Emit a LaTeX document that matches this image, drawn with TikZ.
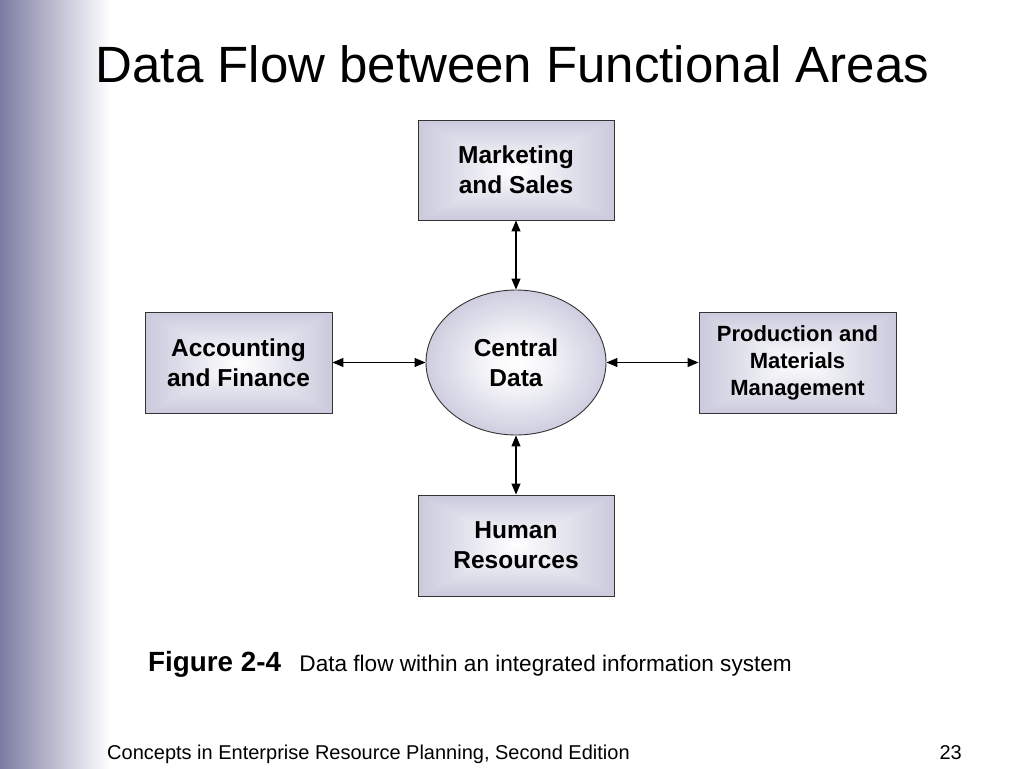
\documentclass[tikz,border=0pt]{standalone}
\usepackage{fontspec}
\setmainfont{Liberation Sans}
\usepackage{xcolor}
\usetikzlibrary{positioning,arrows.meta,shapes.geometric}

\definecolor{slidebar}{RGB}{124,124,164}
\definecolor{areaedge}{RGB}{146,146,186}
% box shading: light middle, lavender towards all four edges
\pgfdeclarefunctionalshading{boxshade}{\pgfpoint{-50bp}{-50bp}}{\pgfpoint{50bp}{50bp}}{}{%
  abs 50 div exch abs 50 div 2 copy lt {exch} if pop
  dup dup
  0.27 mul 1 exch sub
  exch 0.42 mul 1 exch sub exch
  3 -1 roll 0.42 mul 1 exch sub 3 1 roll
}
\pgfdeclareradialshading{ovalshade}{\pgfpoint{0bp}{0bp}}{%
  color(0bp)=(white); color(8bp)=(white!92!areaedge); color(50bp)=(areaedge); color(72bp)=(areaedge)}

\tikzset{
  areabox/.style={draw=black!80, line width=0.9pt, shading=boxshade,
    minimum width=196pt, minimum height=100pt, inner sep=0pt, align=center,
    font=\bfseries\fontsize{24.5}{30}\selectfont},
  flow/.style={>={Triangle[length=11pt,width=9pt]}, <->, line width=1.2pt}
}

\begin{document}
\begin{tikzpicture}[x=1pt,y=-1pt]
			\useasboundingbox (0,0) rectangle (1024,768);
			\fill[white] (0,0) rectangle (1024,768);
			\shade[left color=slidebar, right color=white] (0,0) rectangle (110,768);
			
			\node[anchor=base, inner sep=0pt, font=\fontsize{51}{60}\selectfont] (title) at (512.5,82) {Data Flow between Functional Areas};
			
			\node[areabox] (mkt) at (516,170) {Marketing\\and Sales};
			\node[areabox, minimum width=187pt, minimum height=101pt] (acct) at (238.5,362.5) {Accounting\\and Finance};
			\node[areabox, minimum width=197pt, minimum height=101pt, font=\bfseries\fontsize{22}{27}\selectfont] (prod) at (797.5,362.5) {Production and\\Materials\\Management};
			\node[areabox, minimum height=101pt] (hr) at (516,545.5) {Human\\Resources};
			\node[areabox, ellipse, shading=ovalshade, minimum width=180pt, minimum height=145pt] (cdata) at (516,362.5) {Central\\Data};
			
			\draw[flow] (mkt) -- (cdata);
			\draw[flow] (acct) -- (cdata);
			\draw[flow] (cdata) -- (prod);
			\draw[flow] (cdata) -- (hr);
			
			\node[anchor=base west, inner sep=0pt, font=\bfseries\fontsize{27.8}{32}\selectfont] (figlbl) at (148,671) {Figure 2-4};
			\node[base right=18pt of figlbl, inner sep=0pt, font=\fontsize{22.6}{27}\selectfont] (figcap) {Data flow within an integrated information system};
			
			\node[anchor=base west, inner sep=0pt, font=\fontsize{20}{24}\selectfont] (footer) at (107,759) {Concepts in Enterprise Resource Planning, Second Edition};
			\node[anchor=base east, inner sep=0pt, font=\fontsize{20}{24}\selectfont] (pagenum) at (962,759) {23};
		\end{tikzpicture}
\end{document}
